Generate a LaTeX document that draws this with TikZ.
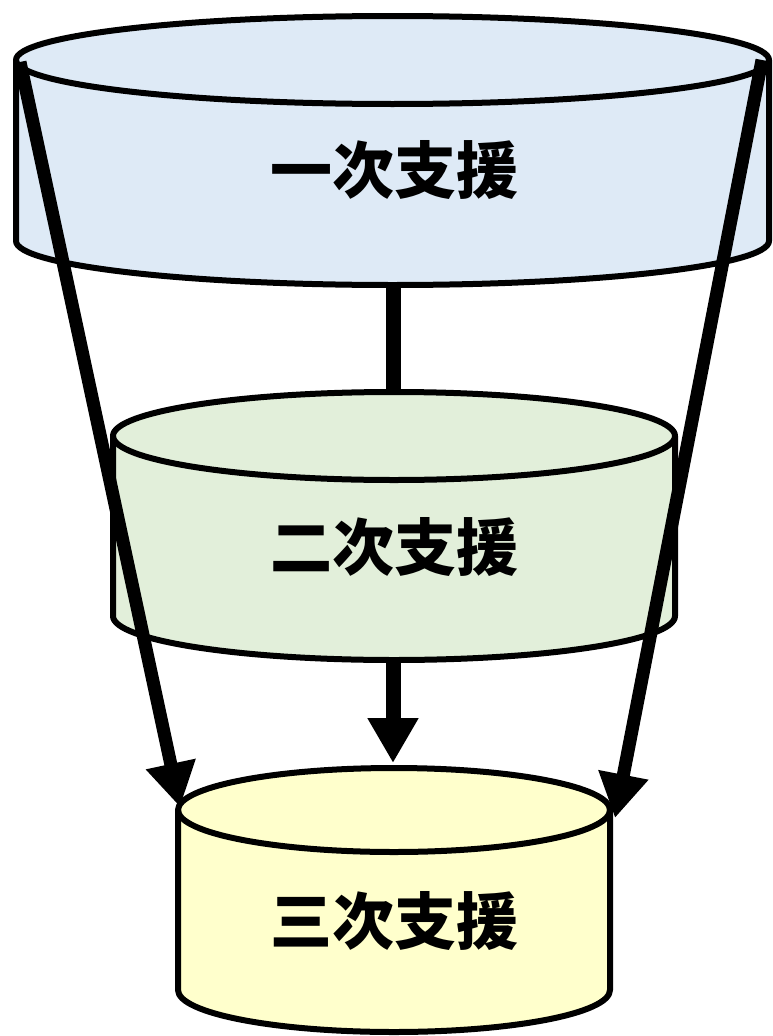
\documentclass[tikz,border=0pt]{standalone}
\usepackage{fontspec}
\newfontfamily\cjk{Noto Sans CJK JP}
\usetikzlibrary{arrows.meta}
\definecolor{cylblue}{HTML}{DEEAF6}
\definecolor{cylgreen}{HTML}{E2EFDA}
\definecolor{cylyellow}{HTML}{FFFFCC}
\tikzset{
  cylbody/.style={draw=black, line width=6pt, line join=round},
  cyllabel/.style={font=\cjk\bfseries\fontsize{62}{70}\selectfont, text=black, inner sep=0pt},
  bigarrow/.style={line width=13pt, -{Triangle[length=44pt,width=48pt]}},
  midarrow/.style={line width=15pt, -{Triangle[length=45pt,width=48pt]}},
  midline/.style={line width=15pt},
}
% #1 fill, #2 left x, #3 right x, #4 top centre y, #5 bottom centre y, #6 ry
\newcommand{\drawcyl}[6]{%
  \pgfmathsetmacro{\rxx}{(#3-#2)/2}%
  \filldraw[cylbody, fill=#1] (#2,-#4) -- (#2,-#5)
    arc[start angle=180, end angle=360, x radius=\rxx, y radius=#6]
    -- (#3,-#4)
    arc[start angle=0, end angle=180, x radius=\rxx, y radius=#6] -- cycle;
  \draw[cylbody] (#2,-#4) arc[start angle=180, end angle=360, x radius=\rxx, y radius=#6];
}
\begin{document}
\begin{tikzpicture}[x=1pt,y=1pt]
\useasboundingbox (0,0) rectangle (772,-1036);
% connection points
\coordinate (c1bot) at (393,-285);
\coordinate (c2top) at (393,-391);
\coordinate (c2bot) at (393,-660);
\coordinate (c3top) at (393,-763);
\coordinate (c1l) at (20,-62);
\coordinate (c1r) at (762,-60);
\coordinate (c3l) at (180,-807);
\coordinate (c3r) at (615,-818);

\draw[midline] (c1bot) -- (c2top);
\draw[midarrow] (c2bot) -- (c3top);

\drawcyl{cylblue}{16}{769}{60}{241}{44}
\drawcyl{cylgreen}{113}{675}{436}{616}{44}
\drawcyl{cylyellow}{178}{610}{810}{990}{42}

\node[cyllabel] (t1) at (394,-170) {一次支援};
\node[cyllabel] (t2) at (394,-547) {二次支援};
\node[cyllabel] (t3) at (394,-921) {三次支援};

\draw[bigarrow] (c1l) -- (c3l);
\draw[bigarrow] (c1r) -- (c3r);
\end{tikzpicture}
\end{document}
